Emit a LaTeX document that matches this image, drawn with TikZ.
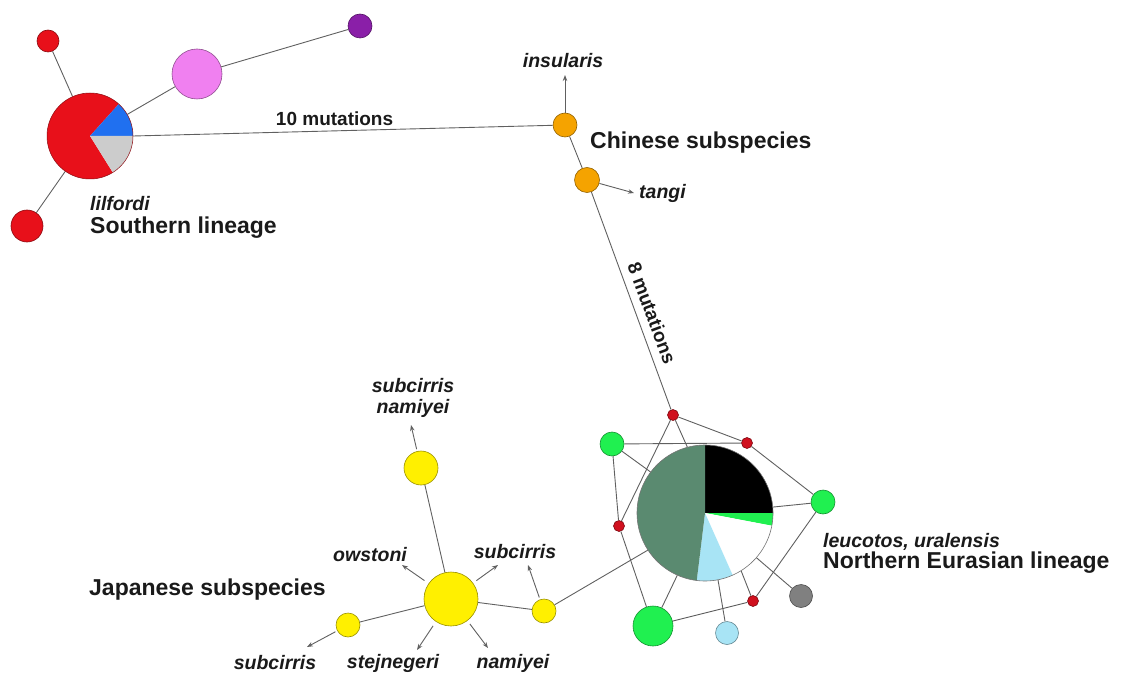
\documentclass[tikz,border=0pt]{standalone}
\usepackage{fontspec}
\setmainfont{Liberation Sans}
\usetikzlibrary{arrows.meta}
\definecolor{cred}{HTML}{E8101A}
\definecolor{cdred}{HTML}{D0101E}
\definecolor{cblue}{HTML}{2070F0}
\definecolor{cgreyS}{HTML}{CCCCCC}
\definecolor{cpink}{HTML}{F080F0}
\definecolor{cpurp}{HTML}{8A1FA8}
\definecolor{corange}{HTML}{F5A300}
\definecolor{cyellow}{HTML}{FFF000}
\definecolor{cgreen}{HTML}{20F050}
\definecolor{cdgreen}{HTML}{5A8A70}
\definecolor{clblue}{HTML}{A8E4F5}
\definecolor{cgnode}{HTML}{808080}
\definecolor{lgrey}{HTML}{606060}
\definecolor{txt}{HTML}{1A1A1A}
\newcommand{\myslice}[5]{\fill[#5] (#1) -- ++({-(#2)}:#4) arc[start angle={-(#2)}, end angle={-(#3)}, radius=#4] -- cycle;}
\begin{document}
\begin{tikzpicture}[x=1pt,y=-1pt,
  lnk/.style={draw=lgrey, line width=0.9pt},
  arr/.style={lnk, -{Stealth[length=6pt,width=4.5pt]}},
  hap/.style 2 args={circle, inner sep=0pt, minimum size=#2, fill=#1, draw=#1!60!black, line width=0.6pt},
  piec/.style={circle, inner sep=0pt, minimum size=#1},
  ttl/.style={font=\fontsize{23}{27}\selectfont\bfseries, text=txt, inner sep=0pt},
  lab/.style={font=\fontsize{19.5}{21}\selectfont\bfseries\itshape, text=txt, inner sep=0pt, align=center},
  mut/.style={font=\fontsize{19}{22}\selectfont\bfseries, text=txt, inner sep=0pt},
]
\useasboundingbox (0,0) rectangle (1123,676);

% ---------- nodes ----------
% Southern lineage
\node[piec=86pt] (sp) at (90,136) {};
\node[hap={cred}{22pt}] (sr1) at (48,41) {};
\node[hap={cred}{32pt}] (sr2) at (27,226) {};
\node[hap={cpink}{50pt}] (spk) at (197,74) {};
\node[hap={cpurp}{24pt}] (spu) at (360,26) {};
% Chinese
\node[hap={corange}{24pt}] (o1) at (565,125) {};
\node[hap={corange}{25pt}] (o2) at (587,180) {};
% Northern Eurasian
\node[piec=136pt] (np) at (705,513) {};
\node[hap={cdred}{11pt}] (ra) at (673,415) {};
\node[hap={cdred}{11pt}] (rb) at (747,443) {};
\node[hap={cdred}{11pt}] (rc) at (619,526) {};
\node[hap={cdred}{11pt}] (rd) at (753,601) {};
\node[hap={cgreen}{24pt}] (g1) at (612,444) {};
\node[hap={cgreen}{24pt}] (g2) at (823,502) {};
\node[hap={cgreen}{40pt}] (g3) at (653,626) {};
\node[hap={clblue}{23pt}] (lb) at (727,633) {};
\node[hap={cgnode}{23pt}] (gy) at (801,596) {};
% Japanese
\node[hap={cyellow}{54pt}] (y1) at (451,599) {};
\node[hap={cyellow}{34pt}] (y2) at (421,468) {};
\node[hap={cyellow}{24pt}] (y3) at (544,611) {};
\node[hap={cyellow}{24pt}] (y4) at (348,625) {};

% ---------- arrow targets ----------
\coordinate (tins) at (565,75);
\coordinate (ttan) at (634,193);
\coordinate (tsn) at (411,425);
\coordinate (tow) at (402,565);
\coordinate (tsm) at (498,565);
\coordinate (tsr) at (528,565);
\coordinate (tst) at (417,650);
\coordinate (tna) at (488,648);
\coordinate (tsl) at (307,647);

% ---------- connectors ----------
\draw[lnk] (sp) -- (sr1);
\draw[lnk] (sp) -- (sr2);
\draw[lnk] (sp) -- (spk);
\draw[lnk] (spk) -- (spu);
\draw[lnk] (sp.0) -- node[mut, above=5pt, pos=0.48] (m10) {10 mutations} (o1);
\draw[lnk] (o1) -- (o2);
\draw[lnk] (o2) -- (ra);
\draw[lnk] (ra) -- (rb);
\draw[lnk] (ra) -- (np.105);
\draw[lnk] (ra) -- (rc);
\draw[lnk] (g1) -- (rb);
\draw[lnk] (g1) -- (np.143);
\draw[lnk] (g1) -- (rc);
\draw[lnk] (rb) -- (g2);
\draw[lnk] (g2) -- (np.5);
\draw[lnk] (g2) -- (rd);
\draw[lnk] (rc) -- (g3);
\draw[lnk] (np.246) -- (g3);
\draw[lnk] (np.281) -- (lb);
\draw[lnk] (np.302) -- (rd);
\draw[lnk] (np.319) -- (gy);
\draw[lnk] (rd) -- (g3);
\draw[lnk] (y3) -- (np.213);
\draw[lnk] (y1) -- (y2);
\draw[lnk] (y1) -- (y3);
\draw[lnk] (y1) -- (y4);

% arrows
\draw[arr] (o1) -- (tins);
\draw[arr] (o2) -- (ttan);
\draw[arr, shorten <=2pt] (y2) -- (tsn);
\draw[arr, shorten <=5pt] (y1) -- (tow);
\draw[arr, shorten <=4pt] (y1) -- (tsm);
\draw[arr, shorten <=2pt] (y3) -- (tsr);
\draw[arr, shorten <=5pt] (y1) -- (tst);
\draw[arr, shorten <=4pt] (y1) -- (tna);
\draw[arr, shorten <=2pt] (y4) -- (tsl);

% ---------- pies ----------
\myslice{sp.center}{48}{302}{43}{cred}
\myslice{sp.center}{0}{48}{43}{cblue}
\myslice{sp.center}{-58}{0}{43}{cgreyS}
\draw[cred!60!black, line width=0.5pt] (sp.center) circle[radius=43];

\myslice{np.center}{0}{90}{68}{black}
\myslice{np.center}{-10.8}{0}{68}{cgreen}
\myslice{np.center}{-66}{-10.8}{68}{white}
\myslice{np.center}{-97}{-66}{68}{clblue}
\myslice{np.center}{90}{263}{68}{cdgreen}
\draw[black!55, line width=0.6pt] (np.center) circle[radius=68];

% ---------- labels ----------
\node[mut, rotate=-69.6] (m8) at (652,313) {8 mutations};
\node[lab] (lins) at (563,61) {insularis};
\node[lab, anchor=west] (ltan) at (639,193) {tangi};
\node[ttl, anchor=west] (lchi) at (590,143) {Chinese subspecies};
\node[lab, anchor=west] (llil) at (90,204) {lilfordi};
\node[ttl, anchor=west] (lsou) at (90,228) {Southern lineage};
\node[ttl, anchor=west] (ljap) at (89,590) {Japanese subspecies};
\node[lab, anchor=west] (lleu) at (823,542) {leucotos, uralensis};
\node[ttl, anchor=west] (lnor) at (823,563) {Northern Eurasian lineage};
\node[lab] (lsn) at (413,398) {subcirris\\namiyei};
\node[lab] (low) at (370,555) {owstoni};
\node[lab] (lsm) at (515,552) {subcirris};
\node[lab] (lsl) at (275,663) {subcirris};
\node[lab] (lst) at (393,663) {stejnegeri};
\node[lab] (lna) at (513,663) {namiyei};
\end{tikzpicture}
\end{document}
